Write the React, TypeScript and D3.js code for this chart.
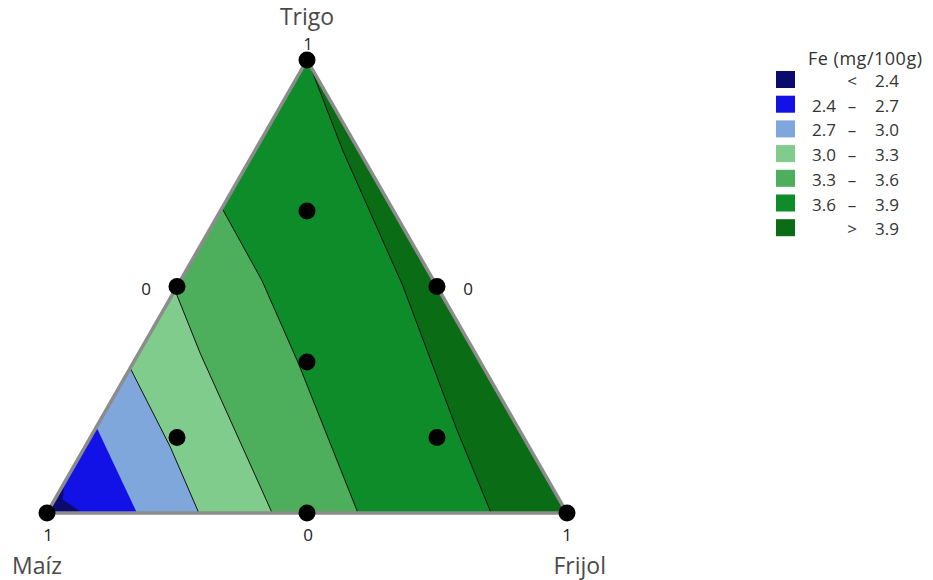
import React from "react";
import * as d3 from "d3";

// Components: Maíz (bottom-left), Trigo (top), Frijol (bottom-right)
const componentNames = ["Maíz", "Trigo", "Frijol"];

// Contour break levels (Fe mg/100g)
const levels = [2.4, 2.7, 3.0, 3.3, 3.6, 3.9];

// Contour boundaries, as [maíz, trigo, frijol] proportions
const boundary24: number[][] = [[0.932, 0.068, 0], [0.955, 0.03, 0.015], [0.931, 0, 0.069]];
const boundary27: number[][] = [[0.81, 0.19, 0], [0.827, 0, 0.173]];
const boundary30: number[][] = [[0.68, 0.32, 0], [0.69, 0.146, 0.164], [0.708, 0, 0.292]];
const boundary33: number[][] = [[0.508, 0.492, 0], [0.529, 0.353, 0.118], [0.567, 0, 0.433]];
const boundary36: number[][] = [[0.327, 0.673, 0], [0.33, 0.514, 0.156], [0.351, 0.333, 0.316], [0.402, 0, 0.598]];
const boundary39: number[][] = [[0, 0.99, 0.01], [0.031, 0.801, 0.168], [0.065, 0.501, 0.434], [0.12, 0.183, 0.697], [0.146, 0, 0.854]];
const boundaries = [boundary24, boundary27, boundary30, boundary33, boundary36, boundary39];
const boundaryDrawn = [false, false, true, true, true, true];

// Bin colours, low to high
const binColors = ["#0b0b6e", "#1212e6", "#7fa7dc", "#80cc8c", "#4dae5b", "#0e8c2a", "#0a6c15"];

// Design points (simplex-centroid augmented)
const designMaiz = [1, 0, 0, 0.5, 0.5, 0, 1 / 3, 2 / 3, 1 / 6, 1 / 6];
const designTrigo = [0, 1, 0, 0.5, 0, 0.5, 1 / 3, 1 / 6, 2 / 3, 1 / 6];
const designFrijol = [0, 0, 1, 0, 0.5, 0.5, 1 / 3, 1 / 6, 1 / 6, 2 / 3];

const legendTitle = "Fe (mg/100g)";

const W = 933;
const H = 580;

export default function App() {
  const xs = d3.scaleLinear().domain([0, 1]).range([47, 567]);
  const ys = d3.scaleLinear().domain([0, 1]).range([513, 60]);
  const pt = (p: number[]): [number, number] => {
    const t = p[1];
    const f = p[2];
    return [xs(f + t / 2), ys(t)];
  };
  const M = pt([1, 0, 0]);
  const T = pt([0, 1, 0]);
  const F = pt([0, 0, 1]);
  const triPath = `M${M[0]},${M[1]}L${T[0]},${T[1]}L${F[0]},${F[1]}Z`;
  const line = d3.line<[number, number]>();

  const highPolys = boundaries.map((b) => {
    const pts = b.map(pt);
    return line([...pts, F, T]) + "Z";
  });
  const boundaryLines = boundaries.map((b) => line(b.map(pt)));

  const legendY = d3.scaleLinear().domain([0, 1]).range([71, 95.7]);
  const bins = d3.range(levels.length + 1);
  const fontFam = "'Open Sans', 'Noto Sans', sans-serif";

  return (
    <svg width={W} height={H} style={{ position: "absolute", left: 0, top: 0, background: "#fff" }} fontFamily={fontFam}>
      <defs>
        <clipPath id="tri">
          <path d={triPath} />
        </clipPath>
      </defs>
      <g clipPath="url(#tri)">
        <path d={triPath} fill={binColors[0]} />
        {highPolys.map((d, i) => (
          <path key={i} d={d} fill={binColors[i + 1]} />
        ))}
        {boundaryLines.map((d, i) =>
          boundaryDrawn[i] ? <path key={i} d={d as string} fill="none" stroke="#111" strokeWidth={1} /> : null
        )}
      </g>
      <path d={triPath} fill="none" stroke="#8c8c8c" strokeWidth={3.5} strokeLinejoin="round" />
      {designMaiz.map((m, i) => {
        const [x, y] = pt([m, designTrigo[i], designFrijol[i]]);
        return <circle key={i} cx={x} cy={y} r={8.5} fill="#000" />;
      })}

      {/* vertex labels */}
      <text x={T[0]} y={25} textAnchor="middle" fontSize={23} fill="#4a4a4a">{componentNames[1]}</text>
      <text x={T[0] + 1} y={50} textAnchor="middle" fontSize={16} fill="#222">1</text>
      <text x={12} y={574} fontSize={23} fill="#4a4a4a">{componentNames[0]}</text>
      <text x={606} y={574} textAnchor="end" fontSize={23} fill="#4a4a4a">{componentNames[2]}</text>
      <text x={M[0] + 1} y={541} textAnchor="middle" fontSize={17} fill="#222">1</text>
      <text x={xs(0.5) + 1} y={541} textAnchor="middle" fontSize={17} fill="#222">0</text>
      <text x={F[0]} y={541} textAnchor="middle" fontSize={17} fill="#222">1</text>
      <text x={146} y={295} textAnchor="middle" fontSize={17} fill="#222">0</text>
      <text x={468} y={295} textAnchor="middle" fontSize={17} fill="#222">0</text>

      {/* legend */}
      <text x={808} y={65} fontSize={18} fill="#333" textLength={114}>{legendTitle}</text>
      {bins.map((i) => {
        const y0 = legendY(i);
        const low = i === 0 || i === levels.length ? "" : levels[i - 1].toFixed(1);
        const sep = i === 0 ? "<" : i === levels.length ? ">" : "–";
        const high = i === levels.length ? levels[i - 1].toFixed(1) : levels[i].toFixed(1);
        return (
          <g key={i}>
            <rect x={776} y={y0} width={19} height={17} fill={binColors[i]} />
            <text x={812} y={y0 + 16} fontSize={17} fill="#333">{low}</text>
            <text x={852} y={y0 + 16} textAnchor="middle" fontSize={17} fill="#333">{sep}</text>
            <text x={875} y={y0 + 16} fontSize={17} fill="#333">{high}</text>
          </g>
        );
      })}
    </svg>
  );
}
